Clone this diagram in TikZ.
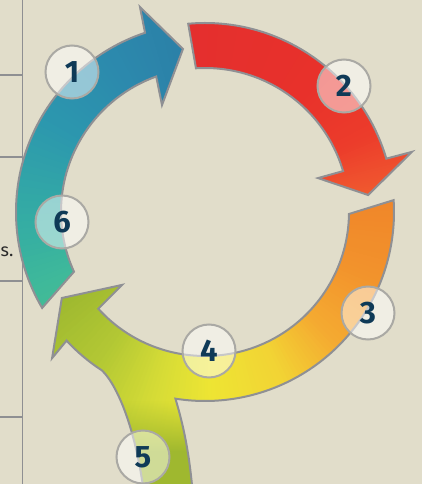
\documentclass[tikz,border=0pt]{standalone}
\usepackage{fontspec}
\setmainfont{Fira Sans}
\usetikzlibrary{fadings}

\definecolor{paper}{HTML}{E1DDCA}
\definecolor{rulegray}{HTML}{8E8F92}
\definecolor{edgegray}{HTML}{8F9094}
\definecolor{badgeedge}{HTML}{AAA9A4}
\definecolor{numnavy}{HTML}{0F3A57}
\definecolor{bodytext}{HTML}{2A2A2A}
% blue arrow
\definecolor{bA}{HTML}{44BE95}
\definecolor{bB}{HTML}{35AEA3}
\definecolor{bC}{HTML}{2C97AE}
\definecolor{bD}{HTML}{2C89AD}
\definecolor{bE}{HTML}{2B7EA6}
% red arrow
\definecolor{rA}{HTML}{E42F2E}
\definecolor{rB}{HTML}{E8312B}
\definecolor{rC}{HTML}{EC3C2B}
\definecolor{rD}{HTML}{EF512E}
\definecolor{rE}{HTML}{F1602F}
% orange - yellow - green arrow
\definecolor{oA}{HTML}{F08529}
\definecolor{oB}{HTML}{F2922C}
\definecolor{oC}{HTML}{F4AA31}
\definecolor{oD}{HTML}{F2D334}
\definecolor{oE}{HTML}{EEE533}
\definecolor{oF}{HTML}{D6DC36}
\definecolor{oG}{HTML}{B3C834}
\definecolor{oH}{HTML}{9AB62F}
\definecolor{stemgreen}{HTML}{9FB82F}

% conic colour band around the ring centre, from angle #1 to #2
\newcommand\conicband[4]{%
  \foreach \k in {0,...,15}{%
    \pgfmathsetmacro\angA{#1+(#2-#1)*\k/16}%
    \pgfmathsetmacro\angB{#1+(#2-#1)*(\k+1.5)/16}%
    \pgfmathsetmacro\mixp{100*(\k+0.5)/16}%
    \fill[#4!\mixp!#3] (0,0) -- (\angA:400) -- (\angB:400) -- cycle;
  }}

% arrow outlines (ring centre at the origin, inner radius 144, outer 189)
\newcommand\bluearrow[1]{\path[#1]
  (210.5:189) arc[start angle=210.5,end angle=108.5,radius=189]
  -- (107.6:215) -- (97.7:164.5) -- (111.9:115.3) -- (109.8:144)
  arc[start angle=109.8,end angle=204.5,radius=144] -- cycle;}
\newcommand\redarrow[1]{\path[#1]
  (95.1:189) arc[start angle=95.1,end angle=16.4,radius=189]
  -- (16.2:215.5) -- (5.95:164) -- (16.7:118) -- (16.5:144)
  arc[start angle=16.5,end angle=93.6,radius=144] -- cycle;}
\newcommand\sunarrow[1]{\path[#1]
  (3.6:189) arc[start angle=3.6,end angle=-99,radius=189]
  .. controls (-22,-212) and (-14,-245) .. (-11,-300)
  -- (-59,-300)
  .. controls (-66,-225) and (-86,-175) .. (237:189)
  arc[start angle=237,end angle=222.9,radius=189]
  -- (223.7:211.5) -- (211:167) -- (221.3:110.5) -- (222.2:144)
  arc[start angle=222.2,end angle=359.2,radius=144] -- cycle;}

\tikzset{
  marginrule/.style={rulegray, line width=1.5pt},
  arrowedge/.style={draw=edgegray, line width=2pt},
  badge/.style={circle, minimum size=53pt, inner sep=0pt,
    fill=white, fill opacity=0.5, text opacity=1,
    draw=badgeedge, line width=2pt, text=numnavy,
    font=\bfseries\fontsize{31}{31}\selectfont},
}

\begin{document}
\begin{tikzpicture}[x=1pt,y=1pt]
  \useasboundingbox (-205,-272) rectangle (217,212);
  \fill[paper] (-205,-272) rectangle (217,212);

  % table rules on the left margin
  \draw[marginrule] (-182.3,212) -- (-182.3,-272);
  \foreach \yy in {137,55,-69,-205}
    \draw[marginrule] (-205,\yy) -- (-182.3,\yy);
  \node[anchor=base west, inner sep=0pt, text=bodytext,
        font=\fontsize{18}{18}\selectfont] (tailtext) at (-204.6,-44.5) {s.};

  % blue arrow
  \begin{scope}
    \bluearrow{clip}
    \conicband{214}{185}{bA}{bB}
    \conicband{185}{150}{bB}{bC}
    \conicband{150}{120}{bC}{bD}
    \conicband{120}{93}{bD}{bE}
  \end{scope}
  \bluearrow{arrowedge}

  % red arrow
  \begin{scope}
    \redarrow{clip}
    \conicband{98}{50}{rA}{rB}
    \conicband{50}{25}{rB}{rC}
    \conicband{25}{12}{rC}{rD}
    \conicband{12}{2}{rD}{rE}
  \end{scope}
  \redarrow{arrowedge}

  % orange-yellow-green arrow with the stem from below
  \begin{scope}
    \sunarrow{clip}
    \conicband{7}{-20}{oA}{oB}
    \conicband{-20}{-45}{oB}{oC}
    \conicband{-45}{-65}{oC}{oD}
    \conicband{-65}{-88}{oD}{oE}
    \conicband{-88}{-105}{oE}{oF}
    \conicband{-105}{-125}{oF}{oG}
    \conicband{-125}{-153}{oG}{oH}
    % the stem turns green towards the bottom
    \fill[stemgreen, path fading=north]
      (-140,-240) -- (-14,-240) -- (-22,-189) -- (-140,-189) -- cycle;
    \fill[stemgreen] (-140,-310) rectangle (-4,-239);
  \end{scope}
  \sunarrow{arrowedge}

  % numbered badges
  \node[badge] (b1) at (-133,140) {1};
  \node[badge] (b2) at (139,126) {2};
  \node[badge] (b3) at (163,-101) {3};
  \node[badge] (b4) at (4,-139) {4};
  \node[badge] (b5) at (-62,-245) {5};
  \node[badge] (b6) at (-143,-10) {6};
\end{tikzpicture}
\end{document}
